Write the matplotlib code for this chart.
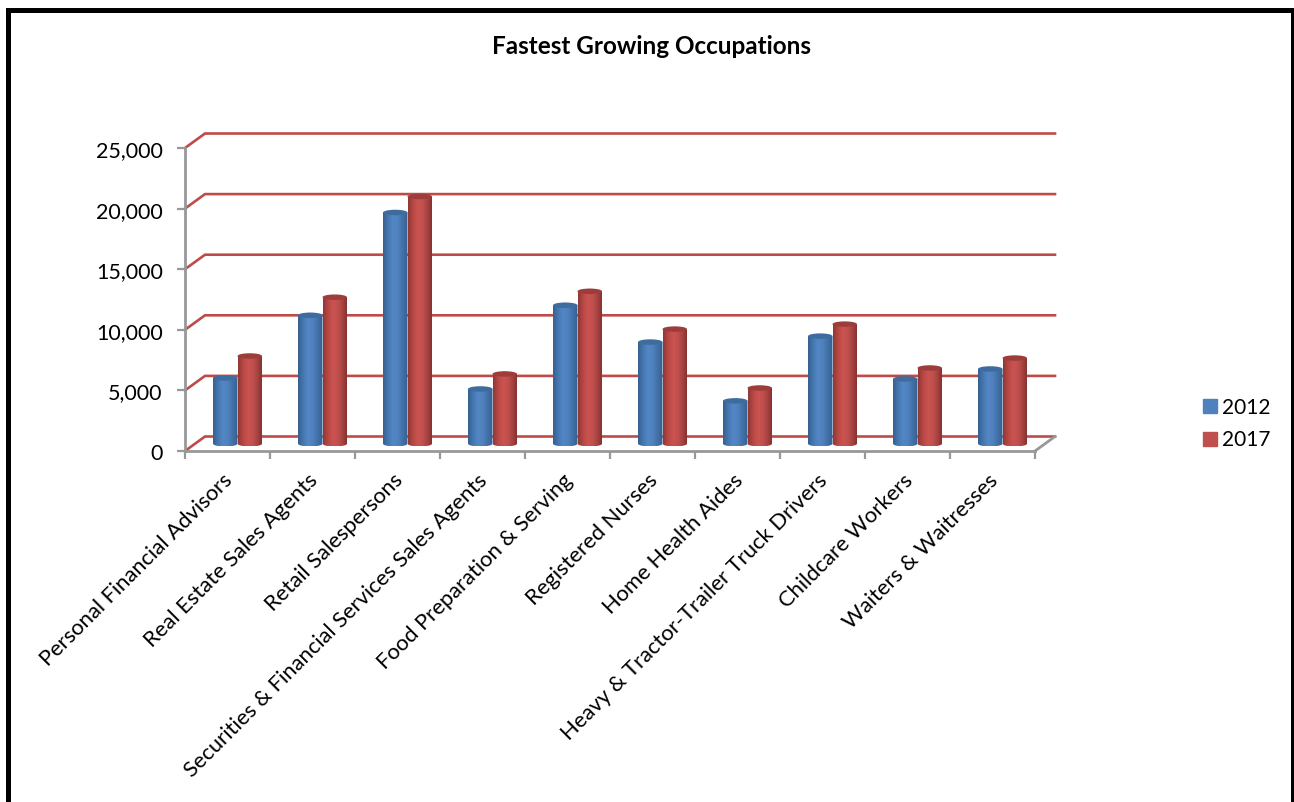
import numpy as np
import matplotlib
matplotlib.use('Agg')
import matplotlib.pyplot as plt
from matplotlib.patches import Patch, Rectangle, Ellipse, PathPatch
from matplotlib.path import Path
from matplotlib.colors import LinearSegmentedColormap
from matplotlib.transforms import ScaledTranslation

plt.rcParams['font.family'] = ['Lato', 'DejaVu Sans']

occupations = ['Personal Financial Advisors', 'Real Estate Sales Agents', 'Retail Salespersons',
               'Securities & Financial Services Sales Agents', 'Food Preparation & Serving',
               'Registered Nurses', 'Home Health Aides', 'Heavy & Tractor-Trailer Truck Drivers',
               'Childcare Workers', 'Waiters & Waitresses']
values_2012 = [5430, 10600, 19080, 4520, 11430, 8390, 3540, 8880, 5350, 6170]
values_2017 = [7240, 12090, 20400, 5760, 12580, 9460, 4600, 9870, 6250, 7070]
yticks = [0, 5000, 10000, 15000, 20000, 25000]

W, H = 1294, 802
RED = '#be4b48'
GREY = '#989898'

# 3d look: depth of the box in data units
depth_x = 20 / 85
depth_y = 14.5 / 303 * 25000
bar_w = 24.5 / 85
cap_h = 5.5 / 303 * 25000

blue_cmap = LinearSegmentedColormap.from_list('b', ['#35608f', '#4677b0', '#5286c5', '#4f81bd', '#4270a8', '#35608f'])
red_cmap = LinearSegmentedColormap.from_list('r', ['#8f3836', '#b84845', '#cb5350', '#c0504d', '#a54240', '#7c2f2d'])

fig = plt.figure(figsize=(W / 100, H / 100), dpi=100)
ax = fig.add_axes([185 / W, 1 - 451 / H, 850 / W, 303 / H])
ax.set_xlim(0, 10)
ax.set_ylim(0, 25000)

# back wall gridlines with their diagonal on the side wall
for v in yticks:
    ax.plot([0, depth_x, 10 + depth_x], [v, v + depth_y, v + depth_y], color=RED, lw=1.9,
            clip_on=False, zorder=1, solid_joinstyle='miter')
# floor edge on the right
ax.plot([10, 10 + depth_x], [0, depth_y], color=GREY, lw=2, clip_on=False, zorder=1.5)


def cylinder(x_left, value, cmap, cap_color, z):
    x0 = x_left
    x1 = x_left + bar_w
    base = depth_y / 2
    top = base + value
    im = ax.imshow(np.linspace(0, 1, 64).reshape(1, -1), extent=[x0, x1, base - cap_h / 2, top],
                   aspect='auto', cmap=cmap, zorder=z, clip_on=True)
    # body outline with rounded bottom
    k = 0.55
    xm = (x0 + x1) / 2
    hw = bar_w / 2
    verts = [(x0, top), (x0, base),
             (x0, base - k * cap_h / 2), (xm - k * hw, base - cap_h / 2), (xm, base - cap_h / 2),
             (xm + k * hw, base - cap_h / 2), (x1, base - k * cap_h / 2), (x1, base),
             (x1, top), (x0, top)]
    codes = [Path.MOVETO, Path.LINETO, Path.CURVE4, Path.CURVE4, Path.CURVE4,
             Path.CURVE4, Path.CURVE4, Path.CURVE4, Path.LINETO, Path.CLOSEPOLY]
    clip = PathPatch(Path(verts, codes), transform=ax.transData, fc='none', ec='none')
    ax.add_patch(clip)
    im.set_clip_path(clip)
    ax.add_patch(Ellipse((xm, top), bar_w, cap_h, fc=cap_color, ec='none', zorder=z + 0.1))


for i in range(len(occupations)):
    cx = i + 0.5 + depth_x / 2
    cylinder(cx - bar_w, values_2012[i], blue_cmap, '#3f6c9f', 3 + i * 0.01)
    cylinder(cx, values_2017[i], red_cmap, '#9c3d3b', 3.5 + i * 0.01)
ax.set_xlim(0, 10)
ax.set_ylim(0, 25000)

for s in ['top', 'right']:
    ax.spines[s].set_visible(False)
for s in ['left', 'bottom']:
    ax.spines[s].set_color(GREY)
    ax.spines[s].set_linewidth(2)
    ax.spines[s].set_zorder(2)

ax.set_yticks(yticks, [f'{v:,}' for v in yticks])
ax.set_xticks(range(11), [''] * 11)
ax.set_xticks(np.arange(10) + 0.5, occupations, minor=True, rotation=45, ha='right',
              rotation_mode='anchor')
ax.tick_params(axis='both', which='major', color=GREY, width=1.6, length=6, labelsize=15.5, pad=5)
ax.tick_params(axis='y', which='major', pad=10)
ax.tick_params(axis='x', which='minor', length=0, labelsize=15.8, pad=14)
# nudge the slanted labels a little left, and the value labels down
nudge_x = ScaledTranslation(-5 / 100, 0, fig.dpi_scale_trans)
for lab in ax.get_xticklabels(minor=True):
    lab.set_transform(lab.get_transform() + nudge_x)
nudge_y = ScaledTranslation(0, -1 / 100, fig.dpi_scale_trans)
for lab in ax.get_yticklabels():
    lab.set_transform(lab.get_transform() + nudge_y)

fig.text(651 / W, 1 - 47 / H, 'Fastest Growing Occupations', ha='center', va='center',
         fontsize=17.5, fontweight='bold')

handles = [Patch(color='#4f81bd', label='2012'), Patch(color='#c0504d', label='2017')]
fig.legend(handles=handles, loc='center left', bbox_to_anchor=(1203 / W, 1 - 424 / H), frameon=False,
           fontsize=15, handlelength=0.67, handleheight=0.67, handletextpad=0.25,
           labelspacing=0.62, borderpad=0, borderaxespad=0)

# black frame round the picture, it runs off the bottom
fig.add_artist(Rectangle((8 / W, -0.05), (W - 8 - 1.5) / W, 1.05 - 9.5 / H, fill=False, ec='black', lw=3.6,
                         transform=fig.transFigure))

fig.savefig('out.png', dpi=100)
